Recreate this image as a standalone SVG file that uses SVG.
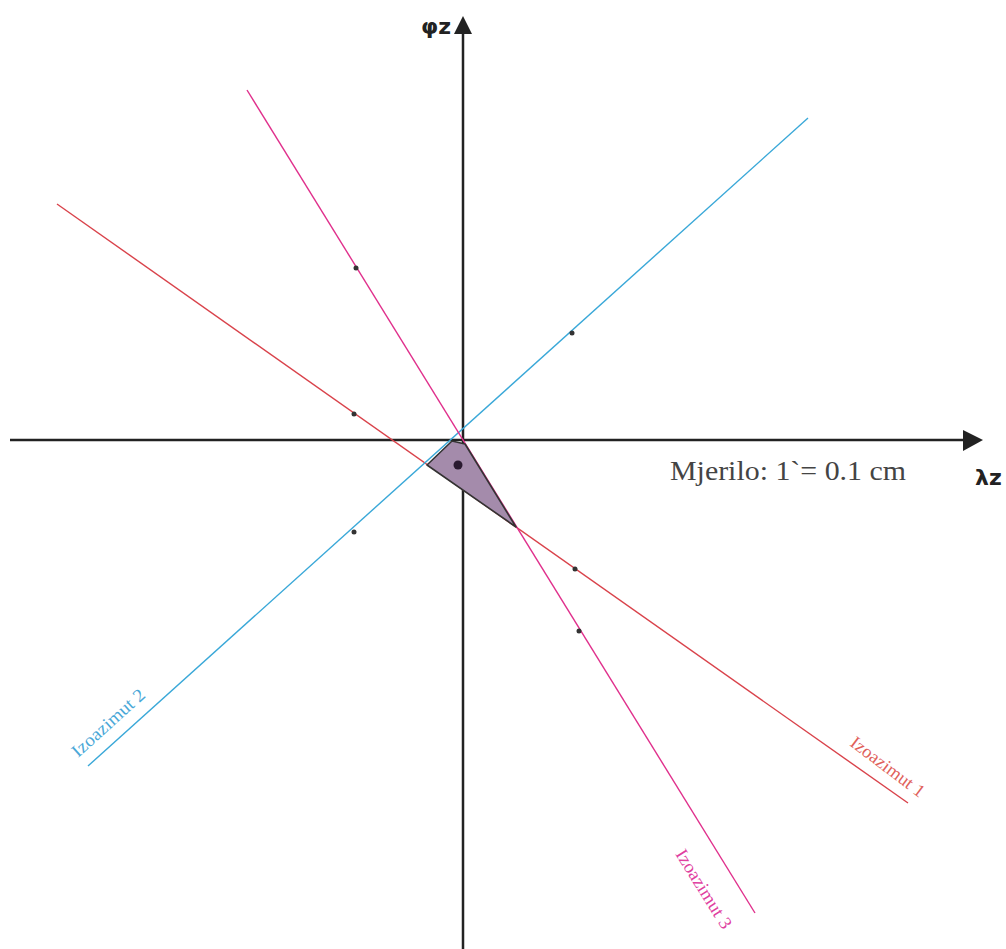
<svg xmlns="http://www.w3.org/2000/svg" width="1006" height="949" viewBox="0 0 1006 949">
<style>
.axis{stroke:#222;stroke-width:2.5;fill:none}
.head{fill:#222}
.az1{stroke:#d9434b;stroke-width:1.4;fill:none}
.az2{stroke:#3aa8d8;stroke-width:1.4;fill:none}
.az3{stroke:#e0308c;stroke-width:1.4;fill:none}
.dot{fill:#333}
.lab{font-family:"Liberation Serif",serif;font-size:18px}
.ax{font-family:"DejaVu Sans",sans-serif;font-weight:bold;font-size:22px;fill:#222}
</style>
<rect width="1006" height="949" fill="#fff"/>
<g id="axes">
<line class="axis" x1="10" y1="440" x2="966" y2="440"/>
<polygon class="head" points="963,430 983,440 963,451"/>
<line class="axis" x1="463" y1="30" x2="463" y2="949"/>
<polygon class="head" points="454,34 463,16 472,34"/>
<text class="ax" x="421" y="34">φz</text>
<text class="ax" x="975" y="485">λz</text>
</g>
<g id="connectors">
<line class="az1" x1="57" y1="204" x2="908" y2="803"/>
<line class="az2" x1="88" y1="766" x2="808" y2="118"/>
<line class="az3" x1="247" y1="90" x2="755" y2="913"/>
</g>
<g id="triangle">
<polygon points="427,465 452,441 465,444 516,527" fill="#a48bab" stroke="#333" stroke-width="1.6" stroke-linejoin="round"/>
<circle cx="458" cy="465" r="4.5" fill="#2a1a30"/>
</g>
<g id="dots">
<circle class="dot" cx="356" cy="268" r="2.5"/>
<circle class="dot" cx="354" cy="414" r="2.5"/>
<circle class="dot" cx="572" cy="333" r="2.5"/>
<circle class="dot" cx="354" cy="532" r="2.5"/>
<circle class="dot" cx="575" cy="569" r="2.5"/>
<circle class="dot" cx="579" cy="631" r="2.5"/>
</g>
<g id="labels">
<text class="lab" fill="#4aa8d8" transform="translate(78,758) rotate(-42)" textLength="92" lengthAdjust="spacingAndGlyphs">Izoazimut 2</text>
<text class="lab" fill="#e0605a" transform="translate(849,745) rotate(37)" textLength="88" lengthAdjust="spacingAndGlyphs">Izoazimut 1</text>
<text class="lab" fill="#e040a0" transform="translate(675,854) rotate(58)" textLength="90" lengthAdjust="spacingAndGlyphs">Izoazimut 3</text>
<text x="670" y="480" font-family="Liberation Serif, serif" font-size="27" fill="#444" textLength="236" lengthAdjust="spacingAndGlyphs">Mjerilo: 1`= 0.1 cm</text>
</g>
</svg>
